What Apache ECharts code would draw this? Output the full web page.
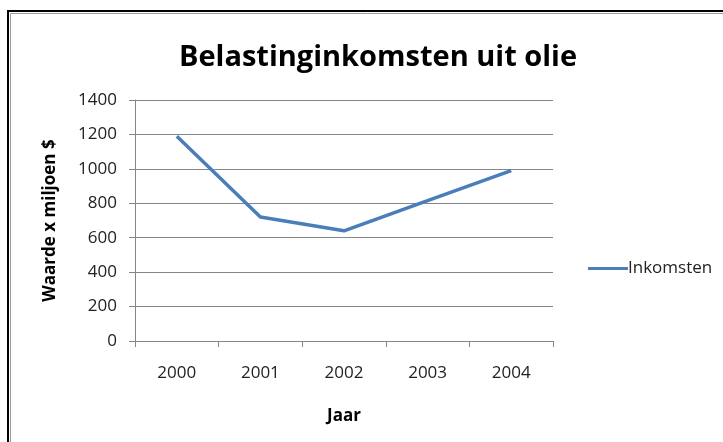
<!DOCTYPE html>
<html><head><meta charset="utf-8">
<script src="https://cdn.jsdelivr.net/npm/echarts@6/dist/echarts.min.js"></script>
<style>html,body{margin:0;padding:0;background:#fff}#c{width:723px;height:442px}</style>
</head><body><div id="c"></div>
<script>
const categories = ['2000', '2001', '2002', '2003', '2004'];
const inkomsten = [1190, 720, 640, 815, 990];
const seriesName = 'Inkomsten';
const titleText = 'Belastinginkomsten uit olie';
const yAxisName = 'Waarde x miljoen $';
const xAxisName = 'Jaar';

const chart = echarts.init(document.getElementById('c'));
const FONT = 'Open Sans';
chart.setOption({
  animation: false,
  backgroundColor: '#fff',
  graphic: [
    { type: 'rect', shape: { x: 8, y: 11, width: 800, height: 500 }, style: { fill: 'none', stroke: '#000', lineWidth: 2 }, z: 100 },
    { type: 'rect', shape: { x: 10.5, y: 13.5, width: 800, height: 500 }, style: { fill: 'none', stroke: '#999', lineWidth: 1 }, z: 100 }
  ],
  title: {
    text: titleText, left: 373, top: 38, textAlign: 'center',
    textStyle: { fontFamily: FONT, fontWeight: 'bold', fontSize: 29, color: '#000' }
  },
  legend: {
    data: [seriesName], left: 583, top: 255, orient: 'vertical',
    icon: 'rect', itemWidth: 40, itemHeight: 3, itemGap: 0,
    textStyle: { fontFamily: FONT, fontSize: 17, color: '#222', padding: [0, 0, 0, -5] }
  },
  grid: { left: 135, right: 170, top: 100, bottom: 101 },
  xAxis: {
    type: 'category', data: categories, boundaryGap: true,
    name: xAxisName, nameLocation: 'middle', nameGap: 67,
    nameTextStyle: { fontFamily: FONT, fontWeight: 'bold', fontSize: 17, color: '#000' },
    axisLine: { lineStyle: { color: '#868686', width: 1 } },
    axisTick: { show: true, length: 6, alignWithLabel: false, lineStyle: { color: '#868686' } },
    axisLabel: { fontFamily: FONT, fontSize: 17, color: '#222', margin: 24 }
  },
  yAxis: {
    type: 'value', min: 0, max: 1400, interval: 200,
    name: yAxisName, nameLocation: 'middle', nameGap: 76, nameRotate: 90,
    nameTextStyle: { fontFamily: FONT, fontWeight: 'bold', fontSize: 17, color: '#000' },
    axisLine: { show: true, lineStyle: { color: '#868686', width: 1 } },
    axisTick: { show: true, length: 6, lineStyle: { color: '#868686' } },
    axisLabel: { fontFamily: FONT, fontSize: 17, color: '#222', margin: 18, formatter: v => String(v) },
    splitLine: { lineStyle: { color: '#868686', width: 1 } }
  },
  series: [{
    name: seriesName, type: 'line', data: inkomsten,
    symbol: 'none', lineStyle: { color: '#4a7ebb', width: 3.5 }, itemStyle: { color: '#4a7ebb' }
  }]
});
</script></body></html>
